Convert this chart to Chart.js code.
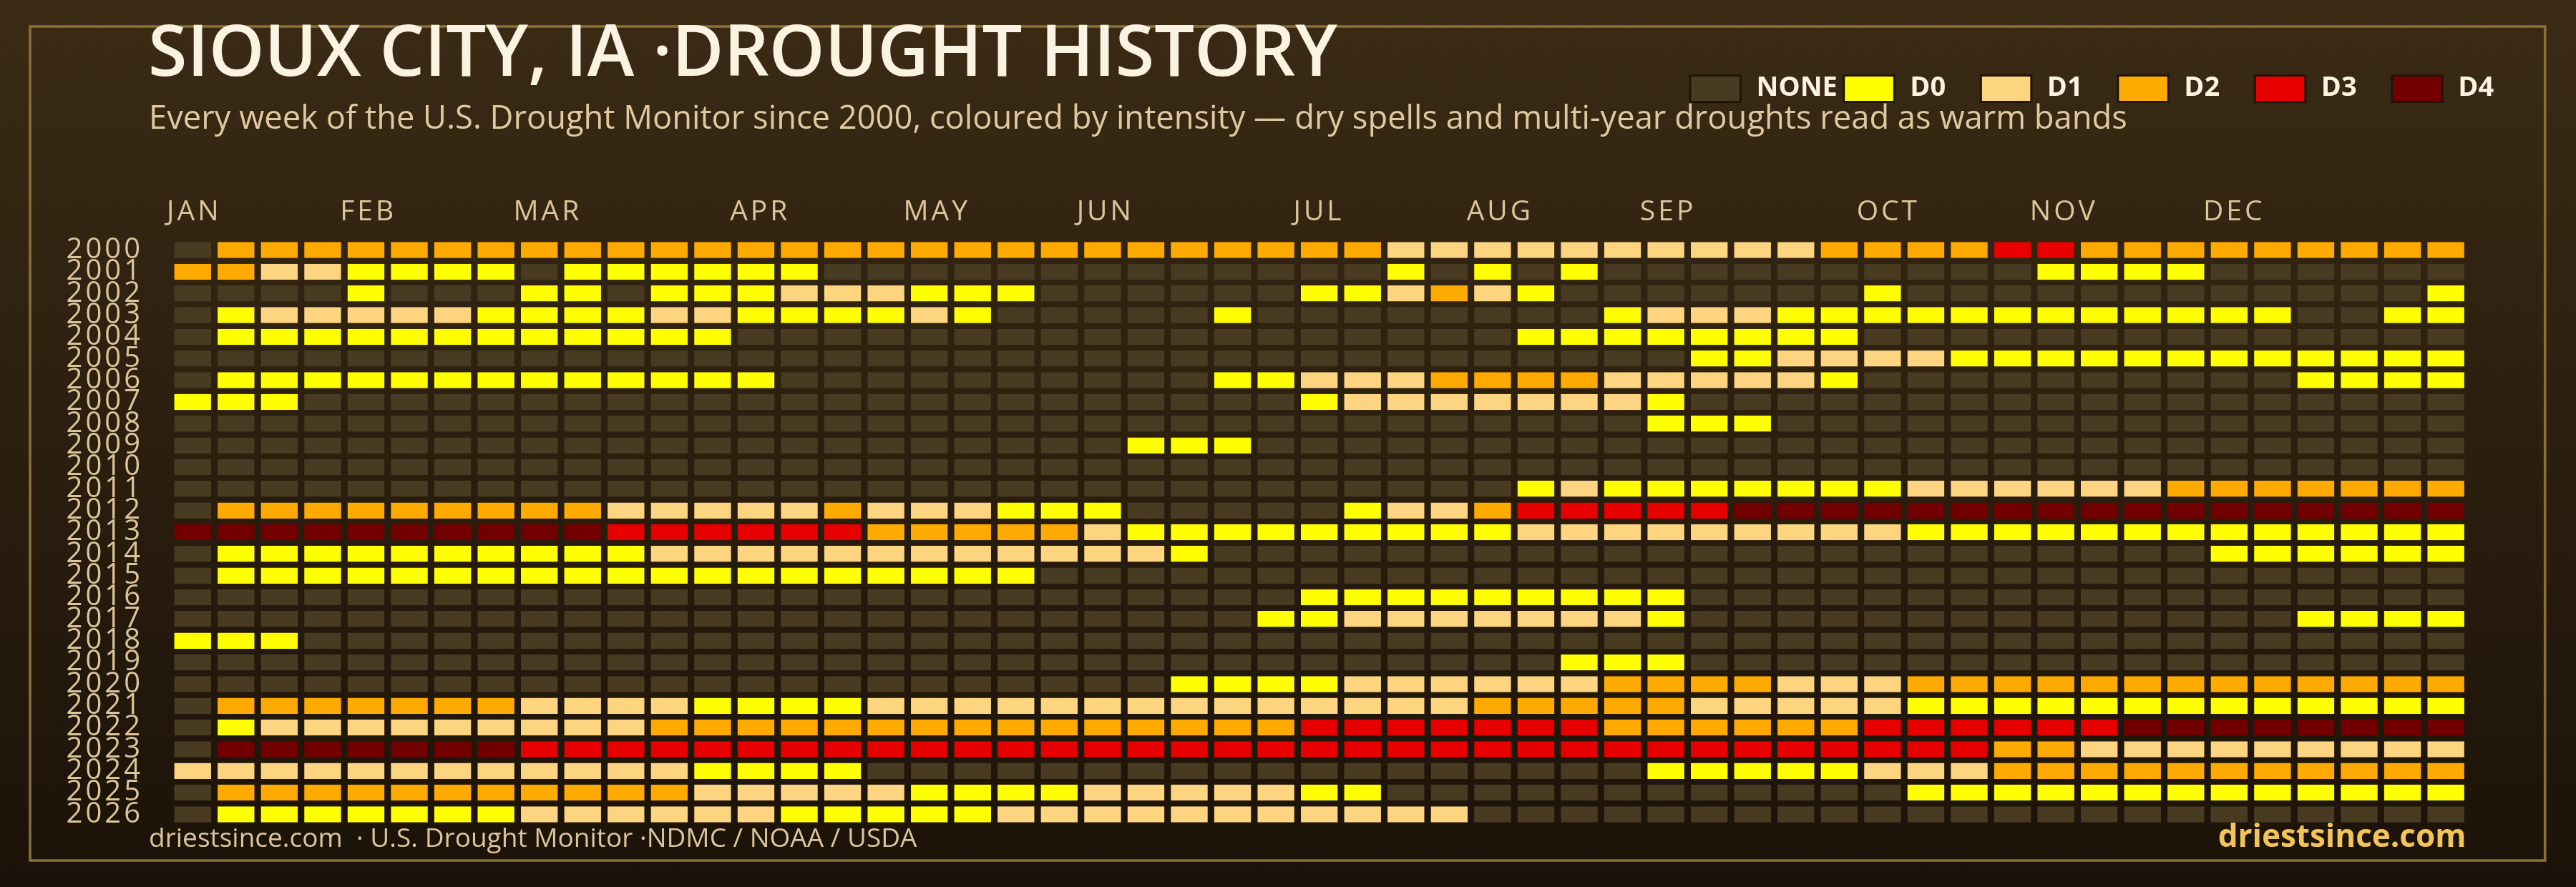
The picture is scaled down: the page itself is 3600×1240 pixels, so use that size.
<!DOCTYPE html>
<html>
<head>
<meta charset="utf-8">
<script src="https://cdn.jsdelivr.net/npm/chart.js@4.4.1/dist/chart.umd.min.js"></script>
<style>
  html, body { margin: 0; padding: 0; background: #2a1e10; }
  #wrap { width: 3600px; height: 1240px; }
  canvas { display: block; }
</style>
</head>
<body>
<div id="wrap"><canvas id="c" width="3600" height="1240"></canvas></div>
<script>
// ---------------- DATA ----------------
const years = ['2000','2001','2002','2003','2004','2005','2006','2007','2008','2009',
  '2010','2011','2012','2013','2014','2015','2016','2017','2018','2019',
  '2020','2021','2022','2023','2024','2025','2026'];

const monthLabels    = ['JAN','FEB','MAR','APR','MAY','JUN','JUL','AUG','SEP','OCT','NOV','DEC'];
const monthStartWeek = [0, 4, 8, 13, 17, 21, 26, 30, 34, 39, 43, 47];

// level codes used in the weekly strings
const levelKeys   = ['N', '0', '1', '2', '3', '4'];
const levelNames  = ['NONE', 'D0', 'D1', 'D2', 'D3', 'D4'];
const levelColors = ['#493b21', '#ffff00', '#fdd47f', '#ffaa00', '#e60000', '#730000'];

// one string per year, one character per week (53 weeks)
const weeklyLevels = [
  /*2000*/ 'N222222222' + '2222222222' + '2222222211' + '1111111122' + '2233222222' + '222',
  /*2001*/ '22110000N0' + '00000NNNNN' + 'NNNNNNNN0N' + '0N0NNNNNNN' + 'NNN0000NNN' + 'NNN',
  /*2002*/ 'NNNN0NNN00' + 'N000111000' + 'NNNNNN0012' + '10NNNNNNN0' + 'NNNNNNNNNN' + 'NN0',
  /*2003*/ 'N011111000' + '011000010N' + 'NNNN0NNNNN' + 'NNN0111000' + '000000000N' + 'N00',
  /*2004*/ 'N000000000' + '000NNNNNNN' + 'NNNNNNNNNN' + 'N00000000N' + 'NNNNNNNNNN' + 'NNN',
  /*2005*/ 'NNNNNNNNNN' + 'NNNNNNNNNN' + 'NNNNNNNNNN' + 'NNNNN00111' + '1000000000' + '000',
  /*2006*/ 'N000000000' + '0000NNNNNN' + 'NNNN001112' + '222111110N' + 'NNNNNNNNN0' + '000',
  /*2007*/ '000NNNNNNN' + 'NNNNNNNNNN' + 'NNNNNN0111' + '11110NNNNN' + 'NNNNNNNNNN' + 'NNN',
  /*2008*/ 'NNNNNNNNNN' + 'NNNNNNNNNN' + 'NNNNNNNNNN' + 'NNNN000NNN' + 'NNNNNNNNNN' + 'NNN',
  /*2009*/ 'NNNNNNNNNN' + 'NNNNNNNNNN' + 'NN000NNNNN' + 'NNNNNNNNNN' + 'NNNNNNNNNN' + 'NNN',
  /*2010*/ 'NNNNNNNNNN' + 'NNNNNNNNNN' + 'NNNNNNNNNN' + 'NNNNNNNNNN' + 'NNNNNNNNNN' + 'NNN',
  /*2011*/ 'NNNNNNNNNN' + 'NNNNNNNNNN' + 'NNNNNNNNNN' + 'N010000000' + '1111112222' + '222',
  /*2012*/ 'N222222222' + '1111121110' + '00NNNNN011' + '2333334444' + '4444444444' + '444',
  /*2013*/ '4444444444' + '3333332222' + '2100000000' + '0111111111' + '0000000000' + '000',
  /*2014*/ 'N000000000' + '0111111111' + '1110NNNNNN' + 'NNNNNNNNNN' + 'NNNNNNN000' + '000',
  /*2015*/ 'N000000000' + '0000000000' + 'NNNNNNNNNN' + 'NNNNNNNNNN' + 'NNNNNNNNNN' + 'NNN',
  /*2016*/ 'NNNNNNNNNN' + 'NNNNNNNNNN' + 'NNNNNN0000' + '00000NNNNN' + 'NNNNNNNNNN' + 'NNN',
  /*2017*/ 'NNNNNNNNNN' + 'NNNNNNNNNN' + 'NNNNN00111' + '11110NNNNN' + 'NNNNNNNNN0' + '000',
  /*2018*/ '000NNNNNNN' + 'NNNNNNNNNN' + 'NNNNNNNNNN' + 'NNNNNNNNNN' + 'NNNNNNNNNN' + 'NNN',
  /*2019*/ 'NNNNNNNNNN' + 'NNNNNNNNNN' + 'NNNNNNNNNN' + 'NN000NNNNN' + 'NNNNNNNNNN' + 'NNN',
  /*2020*/ 'NNNNNNNNNN' + 'NNNNNNNNNN' + 'NNN0000111' + '1112222111' + '2222222222' + '222',
  /*2021*/ 'N222222211' + '1100001111' + '1111111111' + '2222211111' + '0000000000' + '000',
  /*2022*/ 'N011111111' + '1222222222' + '2222223333' + '3332222223' + '3333344444' + '444',
  /*2023*/ 'N444444433' + '3333333333' + '3333333333' + '3333333333' + '3322111111' + '111',
  /*2024*/ '1111111111' + '110000NNNN' + 'NNNNNNNNNN' + 'NNNN000001' + '1122222222' + '222',
  /*2025*/ 'N222222222' + '2211111000' + '01111100NN' + 'NNNNNNNNNN' + '0000000000' + '000',
  /*2026*/ 'N000000011' + '1111000001' + '1111111111' + 'NNNNNNNNNN' + 'NNNNNNNNNN' + 'NNN'
];

const titleText    = 'SIOUX CITY, IA \u00B7DROUGHT HISTORY';
const subtitleText = 'Every week of the U.S. Drought Monitor since 2000, coloured by intensity \u2014 dry spells and multi-year droughts read as warm bands';
const footerLeft   = 'driestsince.com  \u00B7 U.S. Drought Monitor \u00B7NDMC / NOAA / USDA';
const footerRight  = 'driestsince.com';

// ---------------- CHECK ----------------
const WEEKS = weeklyLevels[0].length;
weeklyLevels.forEach((row, i) => {
  if (row.length !== 53) throw new Error('Row ' + years[i] + ' has ' + row.length + ' weeks');
});

// ---------------- DATASETS (one per week, stacked along the year rows) ----------------
const datasets = [];
for (let w = 0; w < WEEKS; w++) {
  datasets.push({
    label: 'Week ' + (w + 1),
    data: years.map(() => 1),            // each cell spans exactly one week
    backgroundColor: weeklyLevels.map(row => levelColors[levelKeys.indexOf(row[w])]),
    borderColor: 'rgba(0,0,0,0)',
    borderWidth: { left: 4.6, right: 4.6, top: 0, bottom: 0 },
    borderSkipped: false,
    inflateAmount: 0,
    barPercentage: 0.742,
    categoryPercentage: 1.0,
    stack: 'weeks'
  });
}

// ---------------- DECOR PLUGIN ----------------
const decor = {
  id: 'decor',
  beforeDraw(chart) {
    const { ctx, width, height } = chart;
    ctx.save();
    const g = ctx.createLinearGradient(0, 0, 0, height);
    g.addColorStop(0, '#3b2b15');
    g.addColorStop(1, '#1b1209');
    ctx.fillStyle = g;
    ctx.fillRect(0, 0, width, height);
    ctx.strokeStyle = '#8a6f37';
    ctx.lineWidth = 3.6;
    ctx.strokeRect(42, 37, 3514.7, 1166);
    ctx.restore();
    ctx.letterSpacing = '4px';   // spaced tick labels
  },
  beforeDatasetsDraw(chart) {
    chart.ctx.letterSpacing = '0px';
  },
  afterDraw(chart) {
    const ctx = chart.ctx;
    const area = chart.chartArea;
    ctx.save();
    ctx.letterSpacing = '0px';
    ctx.textAlign = 'left';
    ctx.textBaseline = 'alphabetic';

    // title + subtitle
    ctx.fillStyle = '#fbf3e2';
    ctx.font = '600 99px "Open Sans"';
    ctx.fillText(titleText, 207, 106);
    ctx.fillStyle = '#e0c9a0';
    ctx.font = '500 45.3px "Open Sans"';
    ctx.fillText(subtitleText, 208, 180);

    // legend
    let x = 2360.5;
    const top = 104, bw = 73.5, bh = 40;
    ctx.font = '700 38px "Open Sans"';
    levelNames.forEach((name, i) => {
      ctx.fillStyle = '#1f1509';
      ctx.fillRect(x, top, bw, bh);
      ctx.fillStyle = levelColors[i];
      ctx.fillRect(x + 3, top + 3, bw - 6, bh - 6);
      ctx.fillStyle = '#fbf3e2';
      ctx.fillText(name, x + 94, 134);
      const tw = ctx.measureText(name).width;
      x += Math.max(tw + 101.5, 191.5);
    });

    // footer
    ctx.fillStyle = '#dcc59b';
    ctx.font = '500 37px "Open Sans"';
    ctx.fillText(footerLeft, 208, 1184);
    ctx.textAlign = 'right';
    ctx.fillStyle = '#f2c45a';
    ctx.font = '700 44px "Open Sans"';
    ctx.fillText(footerRight, area.right - 2, 1184);
    ctx.restore();
  }
};

// ---------------- CHART ----------------
new Chart(document.getElementById('c'), {
  type: 'bar',
  data: { labels: years, datasets },
  plugins: [decor],
  options: {
    indexAxis: 'y',
    responsive: false,
    animation: false,
    devicePixelRatio: 1,
    layout: { padding: { left: 0, right: 151.6, top: 0, bottom: 86.4 } },
    plugins: { legend: { display: false }, tooltip: { enabled: false }, title: { display: false } },
    scales: {
      x: {
        type: 'linear',
        position: 'top',
        stacked: true,
        min: 0,
        max: WEEKS,
        grid: { display: false, drawTicks: false },
        border: { display: false },
        afterFit(scale) { scale.height = 334.4; },
        afterBuildTicks(scale) { scale.ticks = monthStartWeek.map(v => ({ value: v })); },
        ticks: {
          autoSkip: false,
          maxRotation: 0,
          align: 'start',
          labelOffset: -6,
          padding: 14,
          color: '#dcc59b',
          font: { family: '"Open Sans"', size: 39, weight: '500' },
          callback(v) { const i = monthStartWeek.indexOf(v); return i >= 0 ? monthLabels[i] : ''; }
        }
      },
      y: {
        type: 'category',
        stacked: true,
        grid: { display: false, drawTicks: false },
        border: { display: false },
        afterFit(scale) { scale.width = 239; },
        ticks: {
          autoSkip: false,
          padding: 39,
          color: '#dcc59b',
          font: { family: '"Open Sans"', size: 40, weight: '400' }
        }
      }
    }
  }
});
</script>
</body>
</html>
